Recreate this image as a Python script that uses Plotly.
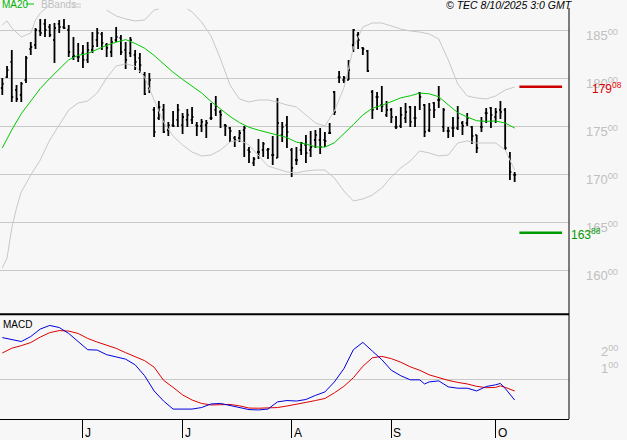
import plotly.graph_objects as go

# ---------------- data ----------------
open_ = [17896,18010,18167,17875,17823,17979,18302,18344,18490,18563,
         18531,18396,18563,18531,18500,18219,18219,18260,18188,18292,
         18396,18458,18344,18271,18396,18417,18292,18260,18240,18208,
         18031,17896,17667,17583,17667,17458,17510,17563,17510,17563,
         17563,17510,17500,17510,17583,17667,17646,17510,17479,17375,
         17375,17458,17250,17115,17229,17250,17250,17198,17167,17406,
         17510,17250,17146,17250,17302,17250,17354,17354,17354,17427,
         17854,18010,17979,17979,18344,18448,18313,18281,17854,17802,
         17719,17615,17667,17490,17500,17583,17698,17583,17844,17719,
         17458,17740,17771,17490,17448,17479,17479,17531,17531,17490,
         17406,17490,17635,17688,17594,17667,17667,17177,16990]
high = [18000,18125,18292,17927,17958,18229,18375,18521,18615,18615,
        18563,18573,18604,18615,18552,18427,18365,18344,18375,18479,
        18521,18479,18365,18427,18531,18448,18375,18427,18292,18260,
        18063,18052,17698,17760,17729,17542,17656,17729,17635,17677,
        17698,17542,17573,17563,17740,17813,17667,17521,17490,17396,
        17458,17500,17281,17177,17365,17333,17271,17396,17792,17542,
        17604,17271,17281,17333,17406,17448,17458,17479,17438,17531,
        17865,18073,18021,18188,18510,18479,18323,18292,17875,17854,
        17917,17760,17688,17604,17698,17740,17708,17708,17854,17729,
        17740,17750,17917,17688,17490,17594,17708,17552,17635,17500,
        17406,17594,17688,17698,17688,17760,17688,17229,17021]
low = [17823,18000,17750,17750,17750,17948,18240,18302,18438,18427,
       18427,18156,18469,18510,18219,18188,18167,18104,18156,18260,
       18323,18292,18219,18219,18375,18240,18094,18219,18083,18052,
       17823,17844,17385,17563,17427,17396,17490,17490,17417,17490,
       17521,17396,17438,17375,17563,17604,17479,17396,17333,17281,
       17333,17177,17115,17083,17156,17177,17156,17094,17167,17333,
       17271,16969,17094,17198,17115,17177,17271,17208,17281,17417,
       17615,17948,17948,17979,18271,18302,18240,18063,17573,17667,
       17646,17594,17531,17469,17479,17531,17490,17490,17667,17385,
       17438,17583,17688,17438,17375,17385,17458,17406,17500,17313,
       17219,17438,17531,17479,17531,17573,17250,16938,16917]
close = [17938,18083,17802,17781,17938,18208,18323,18500,18469,18500,
         18448,18521,18531,18521,18271,18229,18219,18188,18292,18333,
         18469,18365,18313,18375,18427,18271,18188,18396,18167,18135,
         17833,17979,17438,17698,17438,17510,17500,17667,17594,17615,
         17594,17500,17542,17531,17583,17708,17615,17500,17448,17354,
         17427,17479,17229,17156,17229,17313,17260,17198,17531,17490,
         17438,17063,17146,17323,17219,17281,17406,17281,17344,17427,
         17646,18010,18000,18083,18500,18396,18302,18073,17667,17802,
         17708,17667,17594,17490,17615,17646,17542,17583,17802,17438,
         17667,17667,17771,17667,17448,17479,17583,17500,17583,17396,
         17271,17490,17635,17615,17646,17646,17271,17021,16990]

ma_idx = list(range(0, 109, 2))
ma20 = [17271,17460,17628,17760,17890,17995,18092,18190,18236,18255,
        18298,18340,18373,18400,18360,18310,18235,18145,18060,17985,
        17915,17845,17755,17680,17600,17535,17487,17457,17432,17403,
        17380,17332,17313,17282,17280,17325,17418,17515,17615,17685,
        17715,17757,17793,17815,17843,17835,17805,17720,17640,17593,
        17555,17548,17552,17531,17479]

bb_up_idx = [0,1,2,4,6,7,8,10,12,16,20,22,24,26,28,30,32,33,36,39,40,42,44,46,48,50,
             52,54,56,58,60,62,64,66,68,70,72,74,76,78,80,82,84,86,88,90,92,94,96,
             98,100,102,104,106,108]
bb_upper = [18552,18594,18521,18427,18469,18604,18677,18760,None,None,None,18708,18646,
            18615,18594,18604,18708,18719,None,18719,18688,18583,18438,18198,17927,
            17781,17750,17771,17771,17750,17719,17698,17615,17531,17500,17656,17896,
            18313,18531,18573,18573,18542,18510,18490,18479,18458,18406,18188,17938,
            17813,17792,17781,17813,17875,17906]

bb_lo_idx = [0,1,2,3,4,6,8,10,12,14,16,18,20,22,24,26,28,30,32,34,36,38,40,42,44,46,48,
             50,52,54,56,58,60,62,64,66,68,70,72,74,76,78,80,82,84,86,88,90,92,94,96,
             98,100,102,104,106,108]
bb_lower = [16021,16125,16438,16646,16813,16990,17146,17354,17510,17667,17740,17760,
            17844,18000,18125,18146,18125,18010,17771,17542,17396,17302,17229,17188,
            17198,17250,17333,17354,17302,17198,17083,17052,17021,17011,17031,17042,
            17042,16958,16823,16719,16740,16781,16854,16969,17063,17135,17240,17219,
            17188,17198,17323,17344,17323,17323,17323,17250,17042]

macd_idx = [0,2,4,6,8,10,12,14,16,18,20,22,24,26,28,30,32,34,36,38,40,42,44,46,48,50,
            52,54,56,58,60,62,64,66,68,70,72,74,76,78,80,82,84,86,88,89,90,92,94,96,
            98,100,102,104,105,106,107,108]
macd = [247,235,224,253,297,318,306,271,221,176,174,147,134,121,88,24,-65,-124,-171,
        -171,-171,-162,-141,-138,-150,-162,-174,-176,-171,-129,-121,-124,-115,-91,-71,
        -12,65,176,219,168,118,56,24,0,0,-24,-12,-6,-41,-49,-49,-65,-39,-29,-21,-50,
        -82,-118]
sig_idx = [0,2,4,6,8,10,12,14,16,18,20,22,24,26,28,30,32,34,36,38,40,42,44,46,48,50,
           52,54,56,58,60,62,64,66,68,70,72,74,76,78,80,82,84,86,88,90,92,94,96,98,
           100,102,104,105,106,108]
signal = [157,185,200,218,250,276,288,285,271,242,221,203,184,159,137,112,74,-3,-44,
          -88,-118,-138,-147,-144,-144,-152,-165,-166,-166,-162,-153,-144,-132,-121,
          -109,-76,-38,12,79,129,137,124,103,76,56,29,12,-3,-15,-24,-38,-46,-44,-35,
          -44,-65]

targets = [17908, 16388]
target_text = ["179<sup>08</sup>", "163<sup>88</sup>"]
price_ticks = [16000, 16500, 17000, 17500, 18000, 18500]
price_tick_text = ["160<sup>00</sup>", "165<sup>00</sup>", "170<sup>00</sup>",
                   "175<sup>00</sup>", "180<sup>00</sup>", "185<sup>00</sup>"]
macd_ticks = [100, 200]
macd_tick_text = ["1<sup>00</sup>", "2<sup>00</sup>"]
month_idx = [17, 38, 61, 82, 104]
month_labels = ["J", "J", "A", "S", "O"]

# ---------------- figure ----------------
n = len(close)
idx = list(range(n))
BG = "#f7f7f7"
GRID = "#c8c8c8"
FONT = "Arial, Liberation Sans, sans-serif"
W, H = 569.0, 419.0


def px(x):
    return x / W


def py(y):
    return (H - y) / H


fig = go.Figure()

# Bollinger bands
fig.add_trace(go.Scatter(x=bb_up_idx, y=bb_upper, mode="lines", xaxis="x2", yaxis="y2",
                         line=dict(color=GRID, width=1), connectgaps=False, hoverinfo="skip"))
fig.add_trace(go.Scatter(x=bb_lo_idx, y=bb_lower, mode="lines", xaxis="x2", yaxis="y2",
                         line=dict(color=GRID, width=1), hoverinfo="skip"))
# MA20
fig.add_trace(go.Scatter(x=ma_idx, y=ma20, mode="lines", xaxis="x2", yaxis="y2",
                         line=dict(color="#00c800", width=1), hoverinfo="skip"))
# OHLC bars
fig.add_trace(go.Ohlc(x=idx, open=open_, high=high, low=low, close=close,
                      xaxis="x2", yaxis="y2", tickwidth=0.3,
                      increasing=dict(line=dict(color="black", width=1.8)),
                      decreasing=dict(line=dict(color="black", width=1.8))))
# targets
tcolors = ["#cc0000", "#009900"]
for t, c in zip(targets, tcolors):
    fig.add_trace(go.Scatter(x=[n, n + 9], y=[t, t], mode="lines", xaxis="x2", yaxis="y2",
                             line=dict(color=c, width=2.5), hoverinfo="skip"))

# MACD
fig.add_trace(go.Scatter(x=sig_idx, y=signal, mode="lines", line=dict(color="#dd0000", width=1),
                         hoverinfo="skip"))
fig.add_trace(go.Scatter(x=macd_idx, y=macd, mode="lines", line=dict(color="#0000dd", width=1),
                         hoverinfo="skip"))

xr = [-2.3 / 4.744, (W - 2.3) / 4.744]
fig.update_layout(
    width=627, height=440,
    margin=dict(l=0, r=627 - 569, t=0, b=21),
    paper_bgcolor=BG, plot_bgcolor=BG,
    showlegend=False,
    font=dict(family=FONT),
    xaxis=dict(domain=[0, 1], anchor="y", range=xr, tickvals=month_idx, ticktext=month_labels,
               showticklabels=False, ticks="outside", ticklen=18, tickcolor="black", tickwidth=1,
               showgrid=False, zeroline=False, showline=True, linecolor="black", linewidth=1,
               rangeslider=dict(visible=False), fixedrange=True),
    yaxis=dict(domain=[0, 0.2494], range=[-229, 382], showgrid=False, zeroline=True,
               zerolinecolor=GRID, zerolinewidth=1, showticklabels=False, fixedrange=True),
    xaxis2=dict(domain=[0, 1], anchor="y2", matches="x", showticklabels=False, ticks="",
                showgrid=False, zeroline=False, rangeslider=dict(visible=False)),
    yaxis2=dict(domain=[0.2506, 1], range=[15541.7, 18812.5], tickvals=price_ticks,
                showgrid=True, gridcolor=GRID, gridwidth=1, showticklabels=False,
                zeroline=False, fixedrange=True),
)

shapes = [
    dict(type="line", xref="paper", yref="paper", x0=0, x1=1, y0=py(314.3), y1=py(314.3),
         line=dict(color="black", width=2)),
    dict(type="line", xref="paper", yref="paper", x0=1, x1=1, y0=0, y1=py(8),
         line=dict(color="black", width=1)),
    # legend samples
    dict(type="line", xref="paper", yref="paper", x0=px(26), x1=px(34), y0=py(4), y1=py(4),
         line=dict(color="#00c800", width=1)),
    dict(type="line", xref="paper", yref="paper", x0=px(72), x1=px(81), y0=py(4), y1=py(4),
         line=dict(color=GRID, width=1)),
    dict(type="line", xref="paper", yref="paper", x0=px(72), x1=px(81), y0=py(7), y1=py(7),
         line=dict(color=GRID, width=1)),
]
fig.update_layout(shapes=shapes)

ann = []
for v, t in zip(price_ticks, price_tick_text):
    ann.append(dict(x=px(620), xref="paper", xanchor="right", y=v, yref="y2", yanchor="middle",
                    yshift=-5, text=t, showarrow=False,
                    font=dict(size=13, color="#c0c0c0", family=FONT)))
for v, t in zip(macd_ticks, macd_tick_text):
    ann.append(dict(x=px(620), xref="paper", xanchor="right", y=v, yref="y", yanchor="middle",
                    yshift=-5, text=t, showarrow=False,
                    font=dict(size=13, color="#c0c0c0", family=FONT)))
ann.append(dict(x=px(624), xref="paper", xanchor="right", y=targets[0], yref="y2",
                yanchor="middle", yshift=-1, text=target_text[0], showarrow=False,
                font=dict(size=12, color="#dd0000", family=FONT)))
ann.append(dict(x=px(569), xref="paper", xanchor="left", y=targets[1], yref="y2",
                yanchor="middle", yshift=-1, text=target_text[1], showarrow=False,
                font=dict(size=12, color="#009900", family=FONT)))
for m, lab in zip(month_idx, month_labels):
    ann.append(dict(x=m, xref="x", xanchor="left", xshift=0, y=py(433), yref="paper",
                    yanchor="middle", text=lab, showarrow=False,
                    font=dict(size=12, color="black", family=FONT)))
ann.append(dict(x=px(0), xref="paper", xanchor="left", y=1, yref="paper", yanchor="top",
                yshift=3, text="MA20", showarrow=False,
                font=dict(size=10, color="#00b400", family=FONT)))
ann.append(dict(x=px(39), xref="paper", xanchor="left", y=1, yref="paper", yanchor="top",
                yshift=3, text="BBands", showarrow=False,
                font=dict(size=10, color="#c0c0c0", family=FONT)))
ann.append(dict(x=px(575), xref="paper", xanchor="right", y=1, yref="paper", yanchor="top",
                yshift=3, text="© TEC 8/10/2025 3:0 GMT", showarrow=False,
                font=dict(size=10.5, color="black", family=FONT, style="italic")))
ann.append(dict(x=px(1), xref="paper", xanchor="left", y=py(320), yref="paper", yanchor="top",
                yshift=3, text="MACD", showarrow=False,
                font=dict(size=10, color="black", family=FONT)))
fig.update_layout(annotations=ann)

fig.write_html("out.html", config={"displayModeBar": False},
               post_script="document.body.style.margin='0';document.body.style.overflow='hidden';")
